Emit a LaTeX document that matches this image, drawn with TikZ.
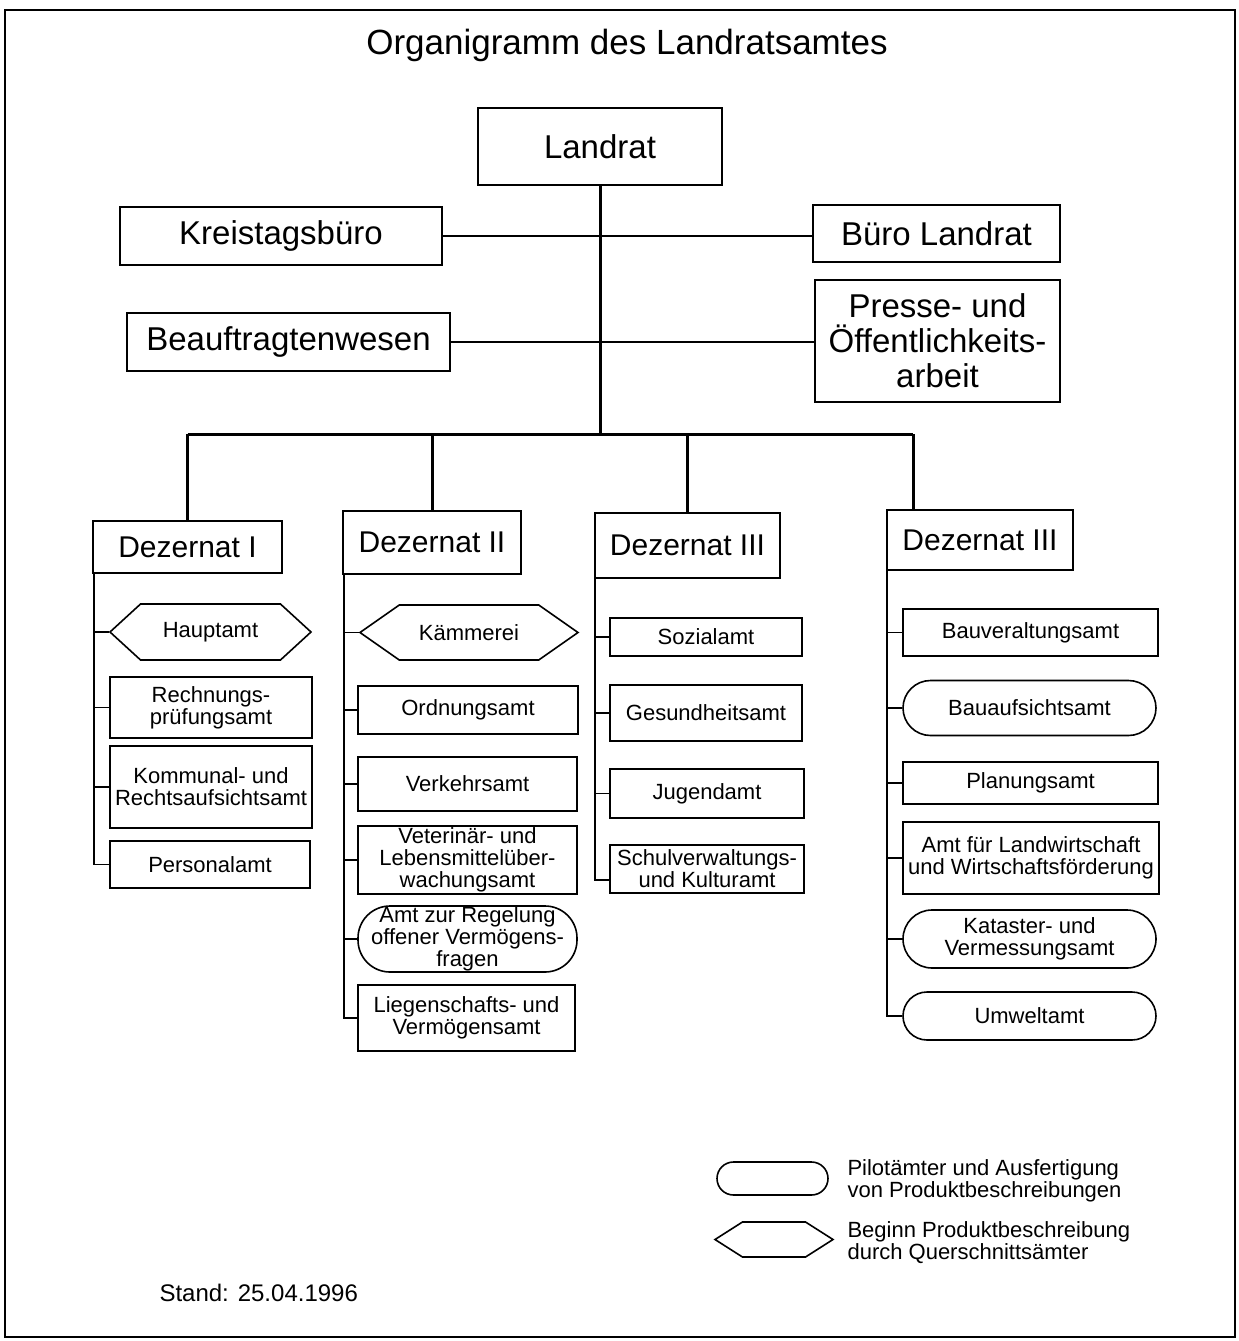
\documentclass[tikz,border=0pt]{standalone}
\usepackage{fontspec}
\setmainfont{Liberation Sans}
\usetikzlibrary{shapes.misc,shapes.symbols}

\tikzset{
	amt/.style={draw, line width=1.6pt, inner sep=0pt, align=center, font=\fontsize{22}{22}\selectfont},
	chef/.style={amt, font=\fontsize{33}{35}\selectfont},
	dez/.style={amt, font=\fontsize{30}{32}\selectfont},
	pilot/.style={amt, rounded rectangle},
	quer/.style={amt, signal, signal to=west and east, signal pointer angle=75},
	trunk/.style={line width=3pt},
	twig/.style={line width=1.6pt},
}

\begin{document}
\begin{tikzpicture}[x=1pt,y=-1pt]
			\useasboundingbox (0,0) rectangle (1239,1341);
			\draw [line width=2.2pt] (5,10) rectangle (1235,1337);
			\node (titel) at (627,45) {\fontsize{35}{38}\selectfont Organigramm des Landratsamtes};
			% Spitze
			\node [chef, minimum width=244, minimum height=77] (landrat) at (600,146.5) {Landrat};
			\node [chef, minimum width=322, minimum height=58] (kreis) at (281,236) {Kreistagsbüro};
			\node [chef, minimum width=247, minimum height=57] (buero) at (936.5,233.5) {Büro Landrat};
			\node [chef, minimum width=323, minimum height=58] (beauf) at (288.5,342) {Beauftragtenwesen};
			\node [chef, minimum width=245, minimum height=122] (presse) at (937.5,341) {Presse- und\\Öffentlichkeits-\\arbeit};
			\coordinate (bus) at (600,434);
			\coordinate (d4) at (913,434);
			\draw [trunk] (landrat.south) -- (bus);
			\draw [line width=2.2pt] (kreis.east) -- (kreis.east -| buero.west);
			\draw [line width=2.2pt] (beauf.east) -- (beauf.east -| presse.west);
			% Dezernate
			\node [dez, minimum width=189, minimum height=52] (dz1) at (187.5,547) {Dezernat I};
			\node [dez, minimum width=178, minimum height=63] (dz2) at (432,542.5) {Dezernat II};
			\node [dez, minimum width=185, minimum height=65] (dz3) at (687.5,545.5) {Dezernat III};
			\node [dez, minimum width=186, minimum height=60] (dz4) at (980,540) {Dezernat III};
			\draw [trunk] (dz1.north |- bus) -- (d4);
			\draw [trunk] (dz1.north |- bus) -- (dz1.north);
			\draw [trunk] (dz2.north |- bus) -- (dz2.north);
			\draw [trunk] (dz3.north |- bus) -- (dz3.north);
			\draw [trunk] (d4) -- (d4 |- dz4.north);
			% Dezernat I
			\node [quer, minimum width=201, minimum height=56, signal pointer angle=85] (haupt) at (210.5,632) {Hauptamt};
			\node [amt, minimum width=202, minimum height=61] (rpa) at (211,707.5) {Rechnungs-\\prüfungsamt};
			\node [amt, minimum width=202, minimum height=82] (kommunal) at (211,787) {Kommunal- und\\Rechtsaufsichtsamt};
			\node [amt, minimum width=200, minimum height=47] (personal) at (210,864.5) {Personalamt};
			\draw [twig] ([xshift=2pt]dz1.south west) |- (personal.west);
			\foreach \n in {haupt,rpa,kommunal}
				\draw [twig] ([xshift=2pt]dz1.south west |- \n.west) -- (\n.west);
			% Dezernat II
			\node [quer, minimum width=218, minimum height=55, signal pointer angle=70] (kaemmerei) at (469,632.5) {Kämmerei};
			\node [amt, minimum width=220, minimum height=48] (ordnung) at (468,710) {Ordnungsamt};
			\node [amt, minimum width=219, minimum height=54] (verkehr) at (467.5,784) {Verkehrsamt};
			\node [amt, minimum width=219, minimum height=68] (veterinaer) at (467.5,860) {Veterinär- und\\Lebensmittelüber-\\wachungsamt};
			\node [amt, rounded corners=32pt, minimum width=219, minimum height=66] (regelung) at (467.5,939) {Amt zur Regelung\\offener Vermögens-\\fragen};
			\node [amt, minimum width=217, minimum height=66] (liegen) at (466.5,1018) {Liegenschafts- und\\Vermögensamt};
			\draw [twig] ([xshift=2pt]dz2.south west) |- (liegen.west);
			\foreach \n in {kaemmerei,ordnung,verkehr,veterinaer,regelung}
				\draw [twig] ([xshift=2pt]dz2.south west |- \n.west) -- (\n.west);
			% Dezernat III
			\node [amt, minimum width=192, minimum height=38] (sozial) at (706,637) {Sozialamt};
			\node [amt, minimum width=192, minimum height=56] (gesund) at (706,713) {Gesundheitsamt};
			\node [amt, minimum width=194, minimum height=49] (jugend) at (707,793.5) {Jugendamt};
			\node [amt, minimum width=194, minimum height=48] (schule) at (707,869) {Schulverwaltungs-\\und Kulturamt};
			\draw [twig] ([xshift=1pt]dz3.south west) |- ([yshift=-11pt]schule.west);
			\foreach \n in {sozial,gesund,jugend}
				\draw [twig] ([xshift=1pt]dz3.south west |- \n.west) -- (\n.west);
			% Dezernat III (Bau)
			\node [amt, minimum width=255, minimum height=47] (bauverw) at (1030.5,632.5) {Bauveraltungsamt};
			\node [pilot, minimum width=253, minimum height=55] (bauaufs) at (1029.5,708) {Bauaufsichtsamt};
			\node [amt, minimum width=255, minimum height=42] (planung) at (1030.5,783) {Planungsamt};
			\node [amt, minimum width=256, minimum height=72] (landw) at (1031,858) {Amt für Landwirtschaft\\und Wirtschaftsförderung};
			\node [pilot, minimum width=253, minimum height=58] (kataster) at (1029.5,939) {Kataster- und\\Vermessungsamt};
			\node [pilot, minimum width=253, minimum height=48] (umwelt) at (1029.5,1016) {Umweltamt};
			\draw [twig] ([xshift=1pt]dz4.south west) |- (umwelt.west);
			\foreach \n in {bauverw,bauaufs,planung,landw,kataster}
				\draw [twig] ([xshift=1pt]dz4.south west |- \n.west) -- (\n.west);
			% Legende
			\node [pilot, minimum width=111, minimum height=33] (lgpilot) at (772.5,1178.5) {};
			\node [quer, minimum width=118, minimum height=35, signal pointer angle=65] (lgquer) at (774,1239.5) {};
			\node [anchor=west, align=left, font=\fontsize{22}{22}\selectfont] (txpilot) at (844,1181) {Pilotämter und Ausfertigung\\von Produktbeschreibungen};
			\node [anchor=west, align=left, font=\fontsize{22}{22}\selectfont] (txquer) at (844,1243) {Beginn Produktbeschreibung\\durch Querschnittsämter};
			\node [anchor=west, font=\fontsize{24}{26}\selectfont] (stand) at (156,1293) {Stand: 25.04.1996};
\end{tikzpicture}
\end{document}
